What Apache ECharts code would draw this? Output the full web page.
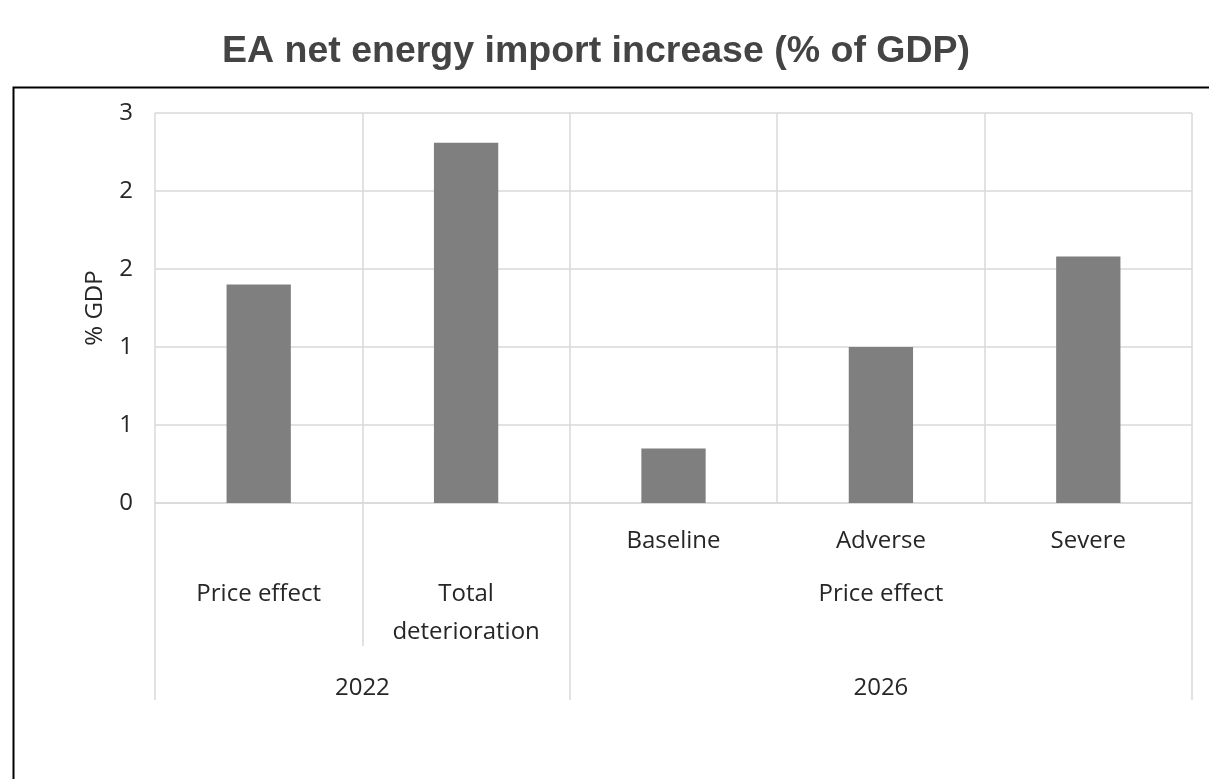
<!DOCTYPE html>
<html>
<head>
<meta charset="utf-8">
<script src="https://cdn.jsdelivr.net/npm/echarts@6/dist/echarts.min.js"></script>
<style>html,body{margin:0;padding:0;background:#fff;}#c{width:1209px;height:779px;}</style>
</head>
<body>
<div id="c"></div>
<script>
// ---- data ----
const titleText = 'EA net energy import increase (% of GDP)';
const level1Labels = ['', '', 'Baseline', 'Adverse', 'Severe'];
const values = [1.40, 2.31, 0.35, 1.00, 1.58];
const subgroupLabels = ['Price effect', 'Total\ndeterioration', 'Price effect'];
const subgroupSizes = [1, 1, 3];
const groupLabels = ['2022', '2026'];
const groupSizes = [2, 3];
const yTickLabels = ['0', '1', '1', '2', '2', '3'];
const yMax = 2.5, yStep = 0.5;
const yName = '% GDP';

// ---- derived positions on a 0..N value scale ----
const N = level1Labels.length;
function centers(sizes) { let s = 0; return sizes.map(z => { const c = s + z / 2; s += z; return c; }); }
function bounds(sizes) { let s = 0; const b = [0]; sizes.forEach(z => { s += z; b.push(s); }); return b; }
const groupCenters = centers(groupSizes);
const subCenters = centers(subgroupSizes);
const groupBounds = bounds(groupSizes);
const subBounds = bounds(subgroupSizes).filter(v => groupBounds.indexOf(v) < 0);

const FONT = 'Open Sans';
const FS = 24;
const TXT = '#262626';
const GRID = '#d9d9d9';

const chart = echarts.init(document.getElementById('c'), null, { renderer: 'canvas' });
chart.setOption({
  backgroundColor: '#fff',
  animation: false,
  title: {
    text: titleText, left: 591, top: 28, textAlign: 'center',
    textStyle: { fontFamily: 'Liberation Sans', fontWeight: 'bold', fontSize: 37.5, color: '#444' }
  },
  graphic: [{
    type: 'rect', left: 11, top: 85, silent: true,
    shape: { width: 1260, height: 760 },
    style: { fill: 'none', stroke: '#000', lineWidth: 2 }
  }],
  grid: { left: 155, right: 17, top: 113, bottom: 276, containLabel: false },
  xAxis: [
    {
      type: 'category', data: level1Labels, position: 'bottom',
      axisLine: { show: true, lineStyle: { color: GRID, width: 1.5 } },
      axisTick: { show: false },
      splitLine: { show: true, lineStyle: { color: GRID, width: 1.5 } },
      axisLabel: { margin: 26, fontFamily: FONT, fontSize: FS, color: TXT, interval: 0 }
    },
    {
      type: 'value', min: 0, max: N, position: 'bottom',
      axisLine: { show: false }, splitLine: { show: false },
      axisTick: { show: true, customValues: groupBounds, length: 197, lineStyle: { color: GRID, width: 1.5 } },
      axisLabel: {
        show: true, customValues: groupCenters, margin: 173,
        fontFamily: FONT, fontSize: FS, color: TXT,
        formatter: v => { const i = groupCenters.indexOf(v); return i >= 0 ? groupLabels[i] : ''; }
      }
    },
    {
      type: 'value', min: 0, max: N, position: 'bottom',
      axisLine: { show: false }, splitLine: { show: false },
      axisTick: { show: true, customValues: subBounds, length: 143, lineStyle: { color: GRID, width: 1.5 } },
      axisLabel: {
        show: true, customValues: subCenters, margin: 72, lineHeight: 38, verticalAlign: 'top',
        fontFamily: FONT, fontSize: FS, color: TXT,
        formatter: v => { const i = subCenters.indexOf(v); return i >= 0 ? subgroupLabels[i] : ''; }
      }
    }
  ],
  yAxis: {
    type: 'value', min: 0, max: yMax, interval: yStep,
    name: yName, nameLocation: 'middle', nameGap: 48, nameRotate: 90,
    nameTextStyle: { fontFamily: FONT, fontSize: FS, color: TXT },
    axisLine: { show: false }, axisTick: { show: false },
    splitLine: { show: true, lineStyle: { color: GRID, width: 1.5 } },
    axisLabel: {
      margin: 22, fontFamily: FONT, fontSize: FS, color: TXT,
      formatter: (v) => yTickLabels[Math.round(v / yStep)]
    }
  },
  series: [{
    type: 'bar', xAxisIndex: 0, yAxisIndex: 0,
    data: values, barWidth: '31%',
    itemStyle: { color: '#7f7f7f' }
  }]
});
</script>
</body>
</html>
